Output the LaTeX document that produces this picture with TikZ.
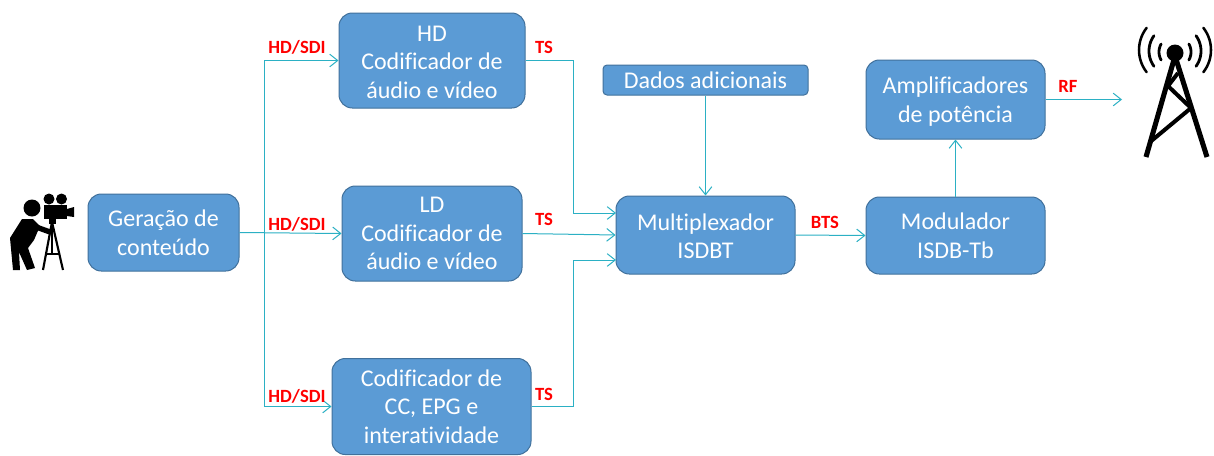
\documentclass[tikz,border=0pt]{standalone}
\usepackage{fontspec}
\setmainfont[Ligatures=NoCommon]{Carlito}
\usetikzlibrary{arrows.meta,calc}
\definecolor{boxfill}{HTML}{5B9BD5}
\definecolor{boxline}{HTML}{41719C}
\definecolor{wire}{HTML}{2BB0C4}
\tikzset{
  blockbox/.style={draw=boxline,fill=boxfill,line width=0.75pt,rounded corners=10pt,text=white,align=center,inner sep=0pt,
    font=\fontsize{18pt}{21.4pt}\selectfont},
  wirelink/.style={draw=wire,line width=0.75pt,-{Straight Barb[length=6pt,width=9.5pt,line width=0.75pt]}},
  sig/.style={text=red,font=\fontsize{14pt}{16pt}\selectfont\bfseries,inner sep=0pt},
  icon/.style={draw=black,line cap=round,line join=round}
}
\begin{document}
\begin{tikzpicture}[x=0.75pt,y=-0.75pt]
\useasboundingbox (0,0) rectangle (1214,455);
\fill[white] (0,0) rectangle (1214,455);
% nodes
\node[blockbox,minimum width=186*0.75pt,minimum height=95*0.75pt] (hd) at (432,60.5) {\rule{0pt}{14pt}HD\\Codificador de\\áudio e vídeo};
\node[blockbox,minimum width=180*0.75pt,minimum height=95*0.75pt] (ld) at (432,233.5) {LD\\Codificador de\\áudio e vídeo};
\node[blockbox,minimum width=199*0.75pt,minimum height=96*0.75pt] (cc) at (431.5,406.5) {Codificador de\\CC, EPG e\\interatividade};
\node[blockbox,minimum width=151*0.75pt,minimum height=77*0.75pt] (gen) at (163.5,232.5) {Geração de\\conteúdo};
\node[blockbox,minimum width=179*0.75pt,minimum height=78*0.75pt] (mux) at (705.5,235) {\rule{0pt}{14.5pt}Multiplexador\\ISDBT};
\node[blockbox,rounded corners=3pt,minimum width=205*0.75pt,minimum height=30*0.75pt] (dados) at (705.5,80) {Dados adicionais};
\node[blockbox,minimum width=179*0.75pt,minimum height=77*0.75pt] (mod) at (955.5,235.5) {Modulador\\ISDB-Tb};
\node[blockbox,minimum width=179*0.75pt,minimum height=79*0.75pt] (amp) at (955.5,99.5) {\rule{0pt}{16pt}Amplificadores\\de potência};
% free ends
\coordinate (split) at (264,233);
\coordinate (muxtop) at (616,213);
\coordinate (muxbot) at (616,260);
\coordinate (hdbend) at (573,60.5);
\coordinate (ccbend) at (573,406.5);
\coordinate (antenna) at (1122,99.5);
% connectors
\draw[wirelink] (gen.east) -- (ld.west);
\draw[wirelink] (split) |- (hd.west);
\draw[wirelink] (split) |- (cc.west);
\draw[wirelink] (hd.east) -- (hdbend) |- (muxtop);
\draw[wirelink] (ld.east) -- (mux.west);
\draw[wirelink] (cc.east) -- (ccbend) |- (muxbot);
\draw[wirelink] (dados.south) -- (mux.north);
\draw[wirelink] (mux.east) -- (mod.west);
\draw[wirelink] (mod.north) -- (amp.south);
\draw[wirelink] (amp.east) -- (antenna);
% labels
\node[sig] (l1) at (297,47) {HD/SDI};
\node[sig] (l2) at (297,224) {HD/SDI};
\node[sig] (l3) at (297,396) {HD/SDI};
\node[sig] (l4) at (544,47) {TS};
\node[sig] (l5) at (544,219) {TS};
\node[sig] (l6) at (544,394) {TS};
\node[sig] (l7) at (825,222) {BTS};
\node[sig] (l8) at (1068,86) {RF};
% camera operator
\fill (32,208) circle[radius=8.5];
\fill (49,199) circle[radius=5.5];
\fill (61.5,199) circle[radius=5.5];
\fill (44,205) rectangle (67,219);
\fill (67,209) -- (74,207) -- (74,217) -- (67,216) -- cycle;
\fill (49,219) rectangle (56,224);
\draw[icon,line width=4pt] (28,224) -- (50,232);
\fill[line join=round] (22,219) -- (33,219) -- (40,226) -- (34,240) -- (28,248) -- (35,268) -- (27,270) -- (19,252) -- (20,270) -- (13,270) -- (10,238) -- cycle;
\draw[icon,line width=1.6pt,line cap=butt] (52,222) -- (43,270);
\draw[icon,line width=1.6pt,line cap=butt] (52,222) -- (63,270);
\draw[icon,line width=1.6pt,line cap=butt] (52,222) -- (52,254);
\draw[icon,line width=1.2pt,line cap=butt] (46,254) -- (59,254);
% tower
\fill (1175,53) circle[radius=8.5];
\draw[icon,line width=3.8pt,line cap=butt] (1175,56) -- (1146,157);
\draw[icon,line width=3.8pt,line cap=butt] (1175,56) -- (1207,157);
\draw[icon,line width=3pt,line cap=butt] (1178,73) -- (1168,86) -- (1191,108) -- (1150,142);
\foreach \s in {1,-1}{
  \draw[icon,line width=2.1pt] plot[domain=-30:30,samples=15,smooth] ({1175+\s*16*cos(\x)},{52+16*sin(\x)});
  \draw[icon,line width=2.1pt] plot[domain=-36:36,samples=15,smooth] ({1175+\s*26*cos(\x)},{51+26*sin(\x)});
  \draw[icon,line width=1.9pt] plot[domain=-38:38,samples=15,smooth] ({1175+\s*36*cos(\x)},{50+36*sin(\x)});
}
\end{tikzpicture}
\end{document}
